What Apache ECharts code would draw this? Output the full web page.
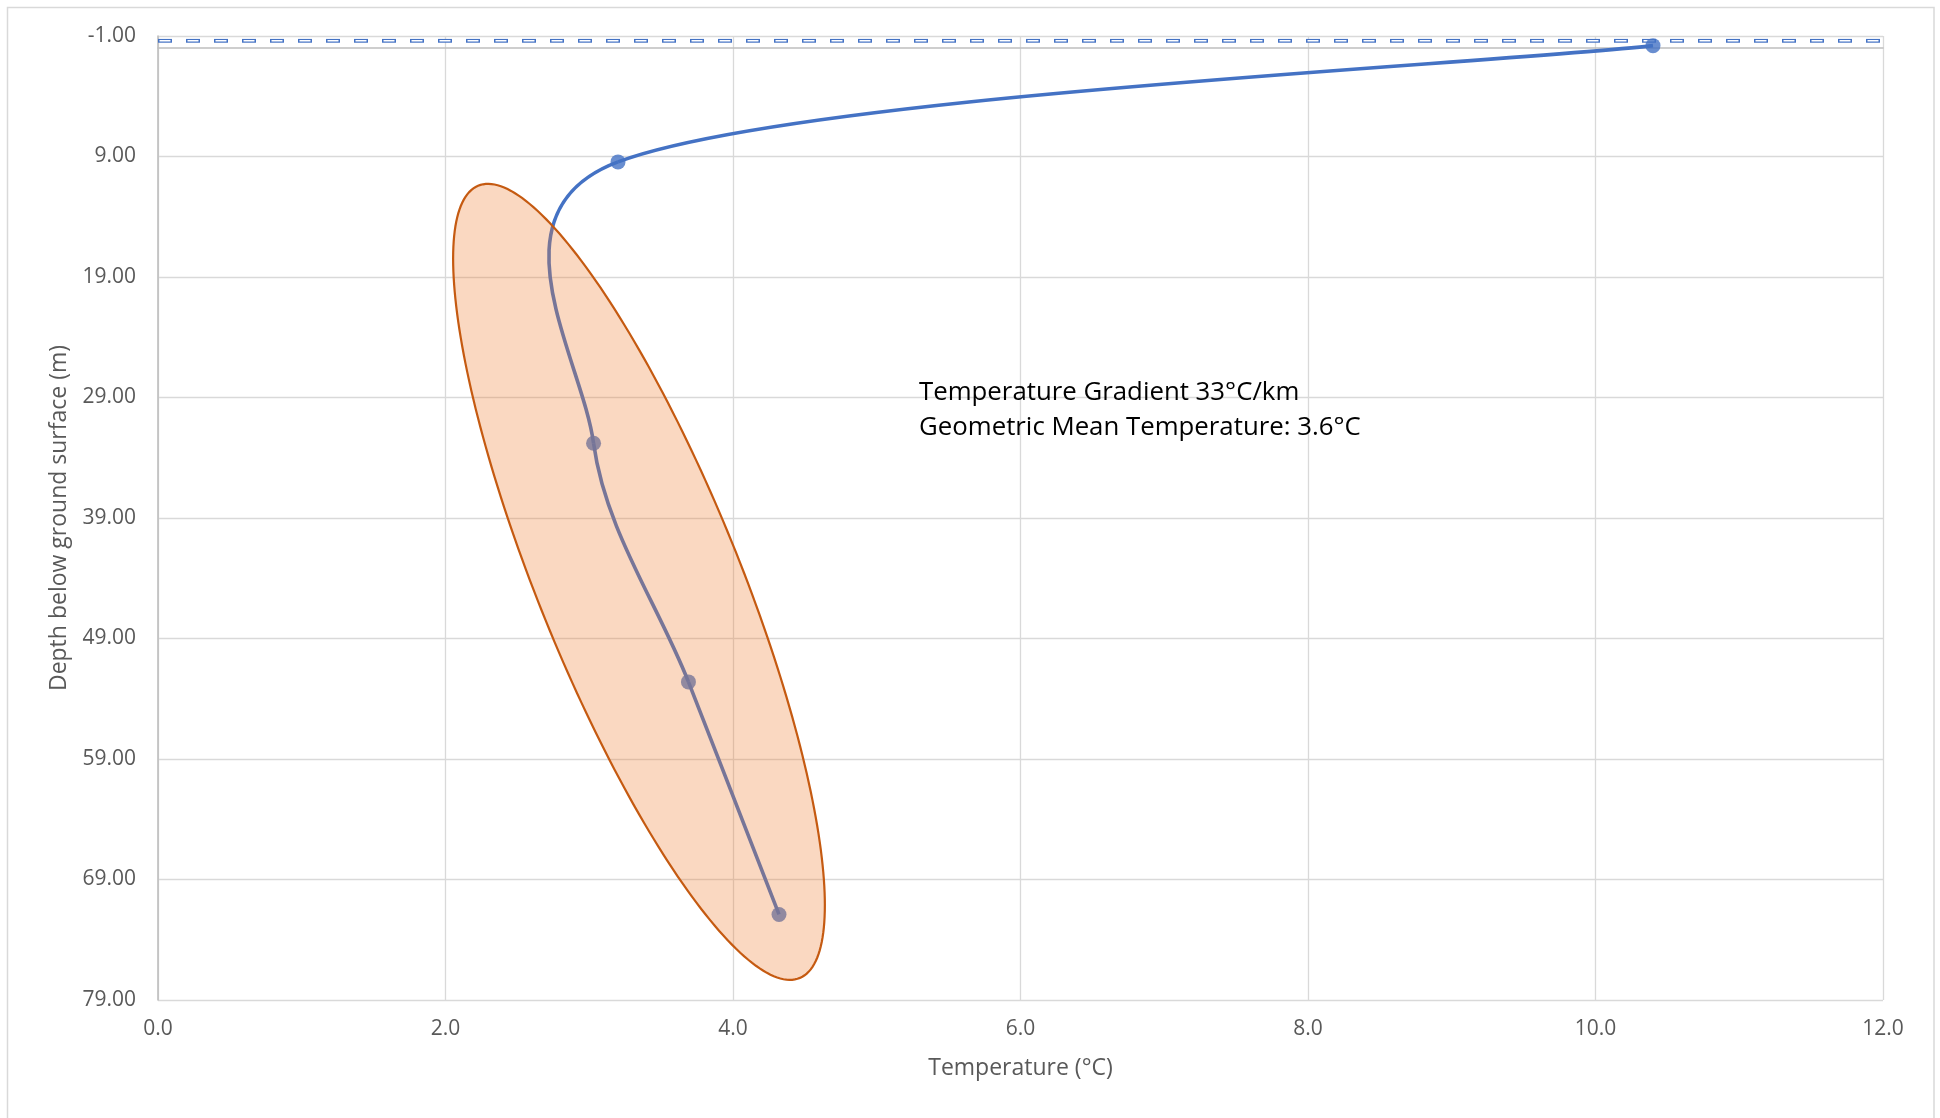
<!DOCTYPE html>
<html>
<head>
<meta charset="utf-8">
<script src="https://cdn.jsdelivr.net/npm/echarts@6/dist/echarts.min.js"></script>
<style>
html,body{margin:0;padding:0;background:#ffffff;}
#chart{width:1940px;height:1118px;}
</style>
</head>
<body>
<div id="chart"></div>
<script>
// ---- data ----
const temperature = [10.40, 3.20, 3.03, 3.69, 4.32];      // °C
const depth = [-0.2, 9.45, 32.8, 52.6, 71.9];             // m below ground surface
const groundTemperature = [0, 12];                         // dashed ground-surface line
const groundDepth = [-0.6, -0.6];
const ellipseCenter = [3.346, 44.3];                       // [°C, m]
const ellipseHalfWidth = [1.293];                          // °C (horizontal half extent)
const ellipseHalfHeight = [33.03];                         // m (vertical half extent)
const ellipseTopShift = [-1.05];                           // °C (x of topmost point rel. to centre)
const xRange = [0, 12, 2];
const yRange = [-1, 79, 10];
const annotationLines = ['Temperature Gradient 33°C/km', 'Geometric Mean Temperature: 3.6°C'];
const xTitle = 'Temperature (°C)';
const yTitle = 'Depth below ground surface (m)';

const FONT = '"Open Sans", Lato, sans-serif';
const BLUE = '#4472C4';

// Excel-like smoothed scatter line (Bezier through the points)
function smoothSegments(pts) {
  const n = pts.length;
  function arms(i) {
    const prev = pts[Math.max(i - 1, 0)], next = pts[Math.min(i + 1, n - 1)];
    const vx = next[0] - prev[0], vy = next[1] - prev[1];
    const vl = Math.hypot(vx, vy) || 1;
    let fb = 1 / 6, ff = 1 / 6;
    if (i > 0) {
      const sb = Math.hypot(pts[i][0] - pts[i - 1][0], pts[i][1] - pts[i - 1][1]);
      if (vl * fb > sb / 2) fb = sb / 2 / vl;
    }
    if (i < n - 1) {
      const sf = Math.hypot(pts[i + 1][0] - pts[i][0], pts[i + 1][1] - pts[i][1]);
      if (vl * ff > sf / 2) ff = sf / 2 / vl;
    }
    return {
      back: [pts[i][0] - vx * fb, pts[i][1] - vy * fb],
      fwd: [pts[i][0] + vx * ff, pts[i][1] + vy * ff]
    };
  }
  const segs = [];
  for (let i = 0; i < n - 1; i++) {
    const c1 = arms(i).fwd, c2 = arms(i + 1).back;
    segs.push({
      type: 'bezierCurve',
      shape: {
        x1: pts[i][0], y1: pts[i][1],
        cpx1: c1[0], cpy1: c1[1],
        cpx2: c2[0], cpy2: c2[1],
        x2: pts[i + 1][0], y2: pts[i + 1][1]
      },
      style: { fill: null, stroke: BLUE, lineWidth: 3.6 }
    });
  }
  return segs;
}

const profileData = temperature.map((t, i) => [t, depth[i]]);
const groundData = groundTemperature.map((t, i) => [t, groundDepth[i]]);

const chart = echarts.init(document.getElementById('chart'), null, { renderer: 'canvas' });

chart.setOption({
  animation: false,
  backgroundColor: '#ffffff',
  textStyle: { fontFamily: FONT },
  graphic: [
    {
      type: 'rect', silent: true, z: -10,
      shape: { x: 7.5, y: 7.5, width: 1926.5, height: 1140 },
      style: { fill: 'none', stroke: '#D9D9D9', lineWidth: 1.5 }
    },
    {
      type: 'text', left: 919, top: 375, silent: true, z: 100,
      style: {
        text: annotationLines.join('\n'),
        fontFamily: FONT, fontSize: 25.8, lineHeight: 35,
        fill: '#000000'
      }
    }
  ],
  grid: { left: 158, right: 57, top: 36, bottom: 118, containLabel: false },
  xAxis: {
    type: 'value',
    min: xRange[0], max: xRange[1], interval: xRange[2],
    name: xTitle, nameLocation: 'middle', nameGap: 57,
    nameTextStyle: { color: '#595959', fontSize: 23, fontFamily: FONT },
    axisLine: { show: true, lineStyle: { color: '#BFBFBF', width: 1.6 } },
    axisTick: { show: false },
    axisLabel: {
      color: '#595959', fontSize: 21, fontFamily: FONT, margin: 19,
      formatter: v => v.toFixed(1)
    },
    splitLine: { show: true, lineStyle: { color: '#D9D9D9', width: 1.3 } }
  },
  yAxis: {
    type: 'value', inverse: true,
    min: yRange[0], max: yRange[1], interval: yRange[2],
    name: yTitle, nameLocation: 'middle', nameGap: 87, nameRotate: 90,
    nameTextStyle: { color: '#595959', fontSize: 23, fontFamily: FONT },
    axisLine: { show: true, lineStyle: { color: '#BFBFBF', width: 1.6 } },
    axisTick: { show: false },
    axisLabel: {
      color: '#595959', fontSize: 21, fontFamily: FONT, margin: 22,
      formatter: v => v.toFixed(2)
    },
    splitLine: { show: true, lineStyle: { color: '#D9D9D9', width: 1.3 } }
  },
  series: [
    {
      type: 'line', name: 'ground', data: groundData, silent: true,
      showSymbol: false, symbol: 'none', z: 2,
      lineStyle: { color: BLUE, width: 3.8, type: [14, 14], cap: 'butt' }
    },
    {
      type: 'line', name: 'groundCore', data: groundData, silent: true,
      showSymbol: false, symbol: 'none', z: 3,
      lineStyle: { color: '#ffffff', width: 1.4, type: [11, 17], dashOffset: -1.5, cap: 'butt' }
    },
    {
      type: 'custom', name: 'profileLine', coordinateSystem: 'cartesian2d',
      data: profileData, silent: true, z: 4,
      renderItem: function (params, api) {
        if (params.dataIndex !== 0) return null;
        const pts = profileData.map(p => api.coord(p));
        return { type: 'group', children: smoothSegments(pts) };
      }
    },
    {
      type: 'scatter', name: 'profile', data: profileData, z: 5,
      symbol: 'circle', symbolSize: 15,
      itemStyle: { color: BLUE }
    },
    {
      type: 'custom', name: 'ellipse', coordinateSystem: 'cartesian2d',
      data: [[ellipseCenter[0], ellipseCenter[1], ellipseHalfWidth[0], ellipseHalfHeight[0], ellipseTopShift[0]]],
      silent: true, z: 10,
      renderItem: function (params, api) {
        const cx = api.value(0), cy = api.value(1);
        const c = api.coord([cx, cy]);
        const hx = Math.abs(api.coord([cx + api.value(2), cy])[0] - c[0]);
        const hy = Math.abs(api.coord([cx, cy + api.value(3)])[1] - c[1]);
        const topShiftPx = api.coord([cx + api.value(4), cy])[0] - c[0];
        // covariance-like matrix of the ellipse (screen coords, y down)
        const mxy = -topShiftPx * hy;
        const l21 = mxy / hx;
        const l22 = Math.sqrt(Math.max(hy * hy - l21 * l21, 1));
        const points = [];
        const N = 240;
        for (let k = 0; k < N; k++) {
          const th = 2 * Math.PI * k / N;
          const u = Math.cos(th), w = Math.sin(th);
          points.push([c[0] + hx * u, c[1] + l21 * u + l22 * w]);
        }
        return {
          type: 'polygon',
          shape: { points: points },
          style: { fill: 'rgba(237,125,49,0.30)', stroke: '#C55A11', lineWidth: 2.2 }
        };
      }
    }
  ]
});
</script>
</body>
</html>
